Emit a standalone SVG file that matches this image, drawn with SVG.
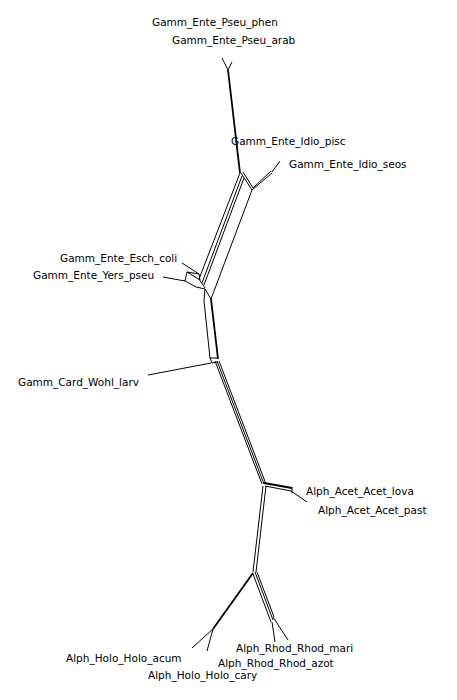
<svg xmlns="http://www.w3.org/2000/svg" width="457" height="700" viewBox="0 0 457 700">
<style>
text{font-family:"DejaVu Sans","Liberation Sans",sans-serif;font-size:10.5px;fill:#000}
.e{stroke:#000;stroke-width:1;fill:none}
.t{stroke:#000;stroke-width:1.8;fill:none}
</style>
<rect width="457" height="700" fill="#fff"/>
<g id="connectors">
<!-- top -->
<path class="e" d="M222,58 L228,70 L232,62"/>
<path class="t" d="M228,70 L240,173"/>
<!-- parallelogram near Idio -->
<path class="e" d="M240,173 L199,279"/>
<path class="e" d="M242,176 L202,283 M244,178 L204,285"/>
<path class="e" d="M241,173 L252,190 M243,172 L253,188"/>
<path class="e" d="M252,190 L211,299"/>
<path class="e" d="M252,190 L272,173 M253,188 L271,171 M272,172 L280,161"/>
<!-- Esch / Yers -->
<path class="e" d="M182,263 L199,274 M187,272 L199,274 M187,272 L200,280 M199,274 L200,280"/>
<path class="e" d="M163,277 L185,281 L196,287 M185,281 L187,272"/>
<path class="e" d="M199,279 L205,288 M196,287 L205,289 L211,299 M205,289 L204,301"/>
<!-- down to Wohl -->
<path class="e" d="M204,301 L210,358"/>
<path class="t" d="M211,299 L218,359"/>
<path class="e" d="M210,358 L217,358 M210,358 L212,363 L218,362"/>
<path class="e" d="M211,363 L148,375"/>
<!-- long edge -->
<path class="e" d="M215,361 L262,484 M217,361 L264,484 M219,361 L266,484"/>
<!-- Acet -->
<path class="t" d="M264,483 L292,488"/>
<path class="e" d="M265,486 L291,491 M292,487 L292,493 M291,491 L307,502"/>
<!-- down to Alph split -->
<path class="e" d="M263,486 L253,572 M266,486 L256,572"/>
<!-- Holo -->
<path class="t" d="M253,573 L213,629"/>
<path class="e" d="M213,629 L192,648 M213,629 L207,651"/>
<!-- Rhod -->
<path class="e" d="M253,574 L271,622 M255,572 L273,620 M257,572 L274,617"/>
<path class="e" d="M272,622 L275,642 M273,617 L288,640"/>
</g>
<g id="Gamm_Ente_Pseu_phen"><text x="152" y="26">Gamm_Ente_Pseu_phen</text></g>
<g id="Gamm_Ente_Pseu_arab"><text x="172" y="44">Gamm_Ente_Pseu_arab</text></g>
<g id="Gamm_Ente_Idio_pisc"><text x="231" y="145">Gamm_Ente_Idio_pisc</text></g>
<g id="Gamm_Ente_Idio_seos"><text x="289" y="168">Gamm_Ente_Idio_seos</text></g>
<g id="Gamm_Ente_Esch_coli"><text x="60" y="262">Gamm_Ente_Esch_coli</text></g>
<g id="Gamm_Ente_Yers_pseu"><text x="33" y="279">Gamm_Ente_Yers_pseu</text></g>
<g id="Gamm_Card_Wohl_larv"><text x="18" y="386">Gamm_Card_Wohl_larv</text></g>
<g id="Alph_Acet_Acet_lova"><text x="306" y="495">Alph_Acet_Acet_lova</text></g>
<g id="Alph_Acet_Acet_past"><text x="318" y="514">Alph_Acet_Acet_past</text></g>
<g id="Alph_Rhod_Rhod_mari"><text x="236" y="652">Alph_Rhod_Rhod_mari</text></g>
<g id="Alph_Rhod_Rhod_azot"><text x="218" y="667">Alph_Rhod_Rhod_azot</text></g>
<g id="Alph_Holo_Holo_acum"><text x="66" y="662">Alph_Holo_Holo_acum</text></g>
<g id="Alph_Holo_Holo_cary"><text x="148" y="679">Alph_Holo_Holo_cary</text></g>
</svg>
